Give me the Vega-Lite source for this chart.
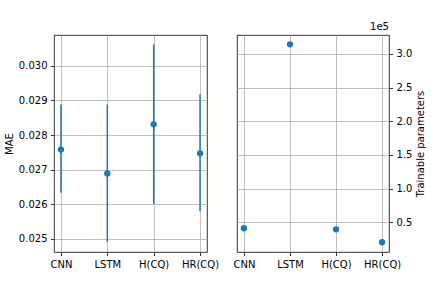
{
  "$schema": "https://vega.github.io/schema/vega-lite/v6.json",
  "padding": {"left": 3, "top": 21, "right": 0, "bottom": 0},
  "background": "white",
  "bounds": "flush",
  "config": {
    "font": "DejaVu Sans",
    "view": {"stroke": "black", "strokeWidth": 0.8},
    "axis": {
      "labelFont": "DejaVu Sans", "labelFontSize": 10, "labelColor": "black",
      "titleFont": "DejaVu Sans", "titleFontSize": 10, "titleFontWeight": "normal", "titleColor": "black",
      "gridColor": "#b0b0b0", "gridWidth": 0.8, "domain": false,
      "tickColor": "black", "tickWidth": 0.8, "tickSize": 3.5, "labelPadding": 3.5
    },
    "title": {"font": "DejaVu Sans", "fontSize": 10, "fontWeight": "normal", "color": "black"}
  },
  "data": {"values": [
    {"model": "CNN", "mae": 0.02758, "lo": 0.02633, "hi": 0.02888, "params": 41100},
    {"model": "LSTM", "mae": 0.02689, "lo": 0.02491, "hi": 0.02888, "params": 314400},
    {"model": "H(CQ)", "mae": 0.02831, "lo": 0.02601, "hi": 0.03062, "params": 39600},
    {"model": "HR(CQ)", "mae": 0.02747, "lo": 0.0258, "hi": 0.02918, "params": 20300}
  ]},
  "spacing": 30,
  "hconcat": [
    {
      "width": 153, "height": 217,
      "layer": [
        {
          "mark": {"type": "rule", "color": "#1f77b4", "strokeWidth": 1.5},
          "encoding": {
            "x": {"field": "model", "type": "nominal", "sort": null, "scale": {"type": "point", "padding": 0.15}, "axis": {"title": null, "labelAngle": 0, "grid": true}},
            "y": {"field": "lo", "type": "quantitative", "scale": {"domain": [0.02462, 0.03089], "nice": false, "zero": false}, "axis": {"title": "MAE", "values": [0.025, 0.026, 0.027, 0.028, 0.029, 0.03], "format": ".3f", "grid": true}},
            "y2": {"field": "hi"}
          }
        },
        {
          "mark": {"type": "circle", "color": "#1f77b4", "size": 40, "opacity": 1},
          "encoding": {
            "x": {"field": "model", "type": "nominal", "sort": null},
            "y": {"field": "mae", "type": "quantitative"}
          }
        }
      ]
    },
    {
      "width": 152, "height": 217,
      "title": {"text": "1e5", "anchor": "end", "frame": "group", "offset": 3},
      "mark": {"type": "circle", "color": "#1f77b4", "size": 40, "opacity": 1},
      "encoding": {
        "x": {"field": "model", "type": "nominal", "sort": null, "scale": {"type": "point", "padding": 0.15}, "axis": {"title": null, "labelAngle": 0, "grid": true}},
        "y": {"field": "params", "type": "quantitative", "scale": {"domain": [5870, 328200], "nice": false, "zero": false},
          "axis": {"orient": "right", "title": "Trainable parameters", "titleAngle": 270, "titleBaseline": "top", "values": [50000, 100000, 150000, 200000, 250000, 300000], "labelExpr": "format(datum.value / 100000, '.1f')", "grid": true}}
      }
    }
  ]
}
